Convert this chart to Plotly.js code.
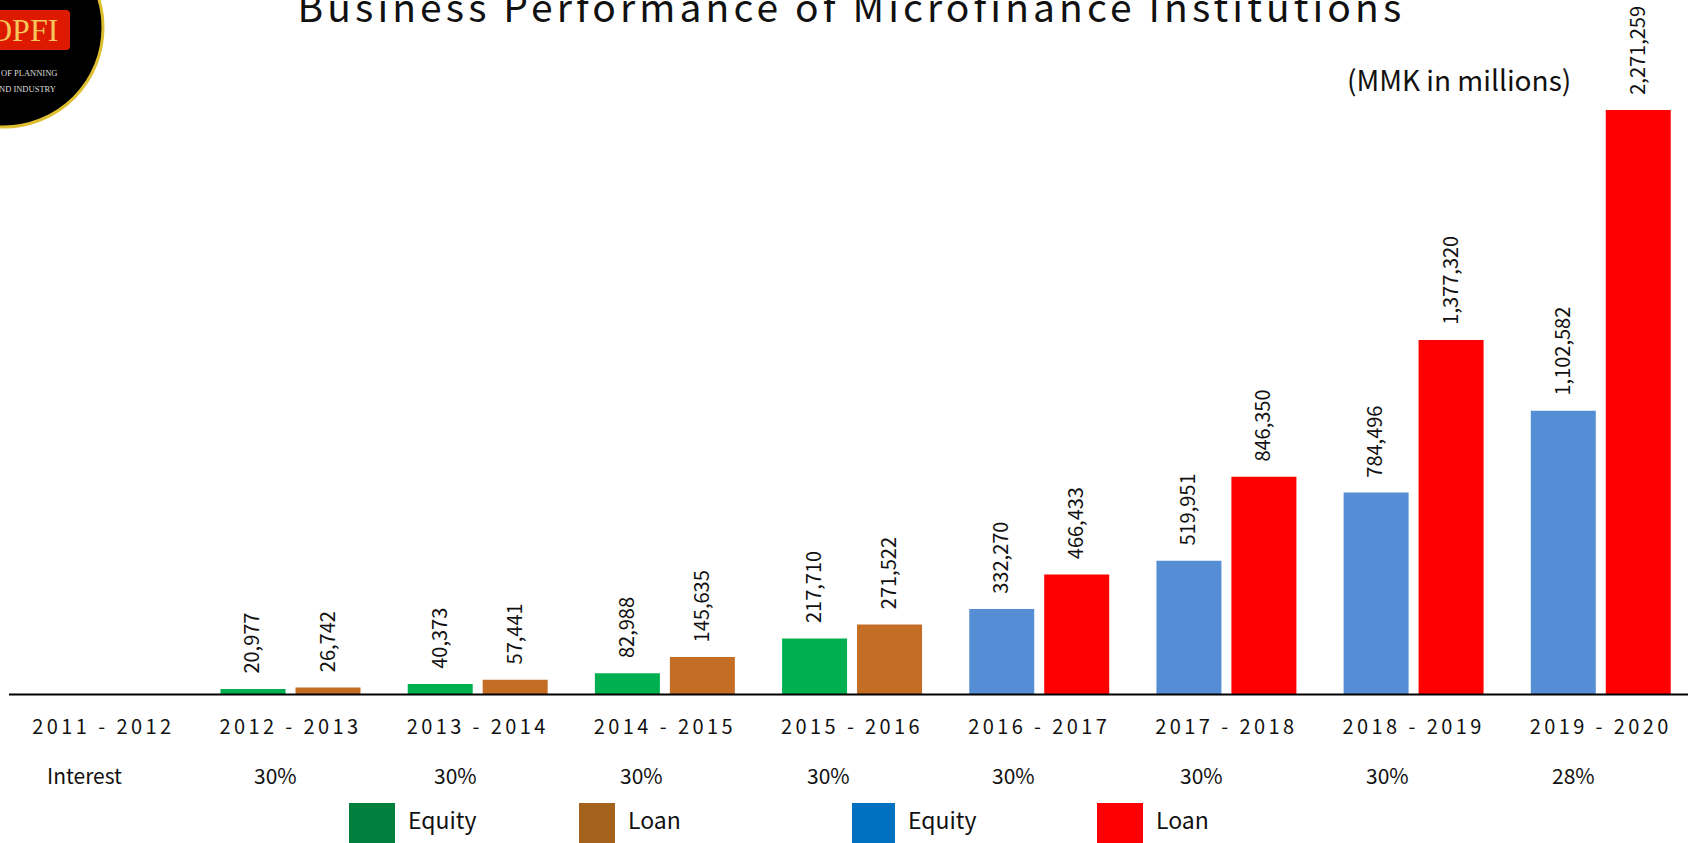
<!DOCTYPE html>
<html><head><meta charset="utf-8">
<script src="https://cdn.plot.ly/plotly-3.0.1.min.js"></script>
<style>
html,body{margin:0;padding:0;background:#fff;overflow:hidden}
.xtick text{letter-spacing:3.4px}
</style></head><body><div id="chart" style="width:1688px;height:843px"></div>
<script>
const years=['2011 - 2012','2012 - 2013','2013 - 2014','2014 - 2015','2015 - 2016','2016 - 2017','2017 - 2018','2018 - 2019','2019 - 2020'];
const equityEarly=[null,20977,40373,82988,217710,null,null,null,null];
const loanEarly=[null,26742,57441,145635,271522,null,null,null,null];
const equityLate=[null,null,null,null,null,332270,519951,784496,1102582];
const loanLate=[null,null,null,null,null,466433,846350,1377320,2271259];
const interestLabels=['Interest','30%','30%','30%','30%','30%','30%','30%','28%'];
const interestX=[84,275,455,641,828,1014,1201,1387,1573];
const legendLabels=['Equity','Loan','Equity','Loan'];
const legendColors=['#007F3D','#A5621C','#0070C0','#FF0000'];
const legendBox=[[349,395],[579,615],[852,895],[1097,1143]];
const legendTextX=[406,626,906,1154];
const W=1688,H=843,FONT='"Noto Sans CJK SC","Noto Sans",sans-serif',SERIF='"Liberation Serif",serif';
const px=x=>x/W, py=y=>1-y/H;
function bar(name,vals,color,group){return {type:'bar',name,x:years,y:vals,offsetgroup:group,marker:{color},
  cliponaxis:false,showlegend:false,hoverinfo:'x+y'};}
const traces=[bar('Equity',equityEarly,'#00B050','e'),bar('Loan',loanEarly,'#C46D24','l'),
  bar('Equity',equityLate,'#558ED5','e'),bar('Loan',loanLate,'#FF0000','l')];
const ann=[];
const txt=(t,x,y,size,extra)=>ann.push(Object.assign({text:t,xref:'paper',yref:'paper',x:px(x),y:py(y),showarrow:false,xanchor:'center',yanchor:'middle',font:{family:FONT,size,color:'#111'}},extra||{}));
txt('Business Performance of Microfinance Institutions',851,5,39);
txt('(MMK in millions)',1459,79,28);
interestLabels.forEach((t,i)=>txt(t,interestX[i],775,21));
legendLabels.forEach((t,i)=>txt(t,legendTextX[i],819,23,{xanchor:'left'}));
txt('OPFI',60,30,32,{xanchor:'right',font:{family:SERIF,size:32,color:'#F7C65A'}});
txt('OF PLANNING',59,73,8.5,{xanchor:'right',font:{family:SERIF,size:8.5,color:'#ddd'}});
txt('ND INDUSTRY',58,89,8.5,{xanchor:'right',font:{family:SERIF,size:8.5,color:'#ddd'}});
function valueLabels(vals,shift){vals.forEach((v,i)=>{if(v==null)return;
  ann.push({text:v.toLocaleString('en-US'),xref:'x',yref:'y',x:years[i],y:v,xshift:shift,yshift:13,textangle:-90,
    showarrow:false,xanchor:'center',yanchor:'bottom',font:{family:FONT,size:20,color:'#111'}});});}
[[equityEarly,-39.5],[loanEarly,35.5],[equityLate,-39.5],[loanLate,35.5]].forEach(a=>valueLabels(a[0],a[1]));
const rr=(x0,x1,y0,y1,r)=>`M${px(x0)},${py(y0+r)} Q${px(x0)},${py(y0)} ${px(x0+r)},${py(y0)} L${px(x1-r)},${py(y0)} Q${px(x1)},${py(y0)} ${px(x1)},${py(y0+r)} L${px(x1)},${py(y1-r)} Q${px(x1)},${py(y1)} ${px(x1-r)},${py(y1)} L${px(x0+r)},${py(y1)} Q${px(x0)},${py(y1)} ${px(x0)},${py(y1-r)} Z`;
const shapes=[
 {type:'circle',xref:'paper',yref:'paper',x0:px(-96),x1:px(103),y0:py(-72),y1:py(127),fillcolor:'#000',line:{color:'#DDBE30',width:3}},
 {type:'path',xref:'paper',yref:'paper',path:rr(-10,70,10,50,4),fillcolor:'#DD1A00',line:{width:0}},
 {type:'line',xref:'paper',yref:'paper',x0:px(9),x1:1,y0:py(694.5),y1:py(694.5),line:{color:'#000',width:2}}
];
legendBox.forEach((b,i)=>shapes.push({type:'rect',xref:'paper',yref:'paper',x0:px(b[0]),x1:px(b[1]),y0:py(803),y1:py(843),fillcolor:legendColors[i],line:{width:0}}));
Plotly.newPlot('chart',traces,{
 width:W,height:H,margin:{l:0,r:0,t:0,b:0,pad:0},paper_bgcolor:'#fff',plot_bgcolor:'#fff',
 barmode:'group',bargap:0.199,bargroupgap:0.133,showlegend:false,
 xaxis:{domain:[px(9),1],range:[-0.504,8.466],type:'category',categoryorder:'array',categoryarray:years,showgrid:false,zeroline:false,
   showline:false,ticks:'',ticklabelstandoff:18,tickfont:{family:FONT,size:20,color:'#111'},automargin:false},
 yaxis:{domain:[py(694.5),1],range:[0,2698700],visible:false,fixedrange:true},
 annotations:ann,shapes
},{displayModeBar:false,staticPlot:true}).then(()=>{
  document.querySelectorAll('.annotation-text').forEach(e=>{if(e.textContent.startsWith('Business')) e.style.letterSpacing='4.1px';});
});
</script></body></html>
